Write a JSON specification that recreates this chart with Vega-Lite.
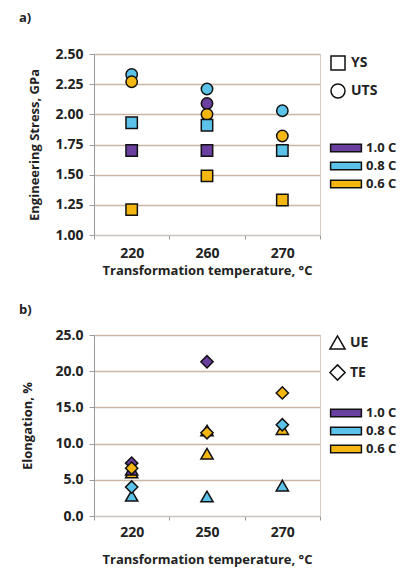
{
  "$schema": "https://vega.github.io/schema/vega-lite/v6.json",
  "background": "white",
  "padding": {"left": 18, "top": 11, "right": 5, "bottom": 5},
  "spacing": 25,
  "config": {
    "font": "Open Sans",
    "view": {"stroke": "#d8ccc0", "strokeWidth": 1},
    "axis": {
      "labelFont": "Open Sans", "labelFontWeight": "bold", "labelFontSize": 14, "labelColor": "#222",
      "titleFont": "Open Sans", "titleFontWeight": "bold", "titleFontSize": 13, "titleColor": "#222",
      "domainColor": "#9a9a9a", "tickColor": "#9a9a9a", "gridColor": "#c9b6a6", "gridWidth": 1.3
    },
    "legend": {
      "labelFont": "Open Sans", "labelFontWeight": "bold", "labelFontSize": 14, "labelColor": "#222", "padding": 0
    },
    "title": {"font": "Open Sans", "fontWeight": "bold", "fontSize": 13, "color": "#222", "anchor": "start", "frame": "group"}
  },
  "resolve": {
    "scale": {"color": "independent", "shape": "independent", "x": "independent", "y": "independent"},
    "legend": {"color": "independent", "shape": "independent"}
  },
  "vconcat": [
    {
      "title": {"text": "a)", "dx": -75, "offset": 22},
      "width": 226,
      "height": 181,
      "data": {"values": [
        {"temp": "220", "prop": "YS", "carbon": "0.6 C", "value": 1.21},
        {"temp": "220", "prop": "YS", "carbon": "1.0 C", "value": 1.70},
        {"temp": "220", "prop": "YS", "carbon": "0.8 C", "value": 1.93},
        {"temp": "220", "prop": "UTS", "carbon": "0.8 C", "value": 2.33},
        {"temp": "220", "prop": "UTS", "carbon": "0.6 C", "value": 2.27},
        {"temp": "260", "prop": "UTS", "carbon": "0.8 C", "value": 2.21},
        {"temp": "260", "prop": "UTS", "carbon": "1.0 C", "value": 2.09},
        {"temp": "260", "prop": "UTS", "carbon": "0.6 C", "value": 2.00},
        {"temp": "260", "prop": "YS", "carbon": "0.8 C", "value": 1.91},
        {"temp": "260", "prop": "YS", "carbon": "1.0 C", "value": 1.70},
        {"temp": "260", "prop": "YS", "carbon": "0.6 C", "value": 1.49},
        {"temp": "270", "prop": "UTS", "carbon": "0.8 C", "value": 2.03},
        {"temp": "270", "prop": "UTS", "carbon": "0.6 C", "value": 1.82},
        {"temp": "270", "prop": "YS", "carbon": "0.8 C", "value": 1.70},
        {"temp": "270", "prop": "YS", "carbon": "0.6 C", "value": 1.29}
      ]},
      "mark": {"type": "point", "filled": true, "opacity": 1, "size": 130, "stroke": "#111", "strokeWidth": 1.5},
      "encoding": {
        "x": {
          "field": "temp", "type": "nominal", "sort": ["220", "260", "270"],
          "scale": {"type": "band", "paddingInner": 0, "paddingOuter": 0},
          "axis": {"title": "Transformation temperature, °C", "labelAngle": 0, "tickBand": "extent", "grid": false, "labelPadding": 7, "titlePadding": 4, "tickSize": 4, "domainColor": "#c8c8c8"}
        },
        "y": {
          "field": "value", "type": "quantitative",
          "scale": {"domain": [1.0, 2.5], "nice": false, "zero": false},
          "axis": {"title": "Engineering Stress, GPa", "values": [1.0, 1.25, 1.5, 1.75, 2.0, 2.25, 2.5], "format": ".2f", "tickSize": 5, "labelPadding": 6, "titlePadding": 13}
        },
        "shape": {
          "field": "prop", "type": "nominal",
          "scale": {"domain": ["YS", "UTS"], "range": ["square", "circle"]},
          "legend": {"title": null, "orient": "none", "legendX": 236, "legendY": 1, "symbolFillColor": "white", "symbolStrokeColor": "#111", "symbolStrokeWidth": 1.5, "symbolSize": 196, "rowPadding": 8, "labelOffset": 5}
        },
        "color": {
          "field": "carbon", "type": "nominal",
          "scale": {"domain": ["1.0 C", "0.8 C", "0.6 C"], "range": ["#6a3fa0", "#5bc3ea", "#f4b611"]},
          "legend": {"title": null, "orient": "none", "legendX": 244, "legendY": 86, "labelFontSize": 13, "symbolType": "M-2.2,-0.55H2.2V0.55H-2.2Z", "symbolSize": 196, "symbolStrokeColor": "#111", "symbolStrokeWidth": 1.5, "rowPadding": 3, "labelOffset": 12}
        }
      }
    },
    {
      "title": {"text": "b)", "dx": -75, "offset": 11},
      "width": 226,
      "height": 181,
      "data": {"values": [
        {"temp": "220", "prop": "UE", "carbon": "0.8 C", "value": 2.8},
        {"temp": "220", "prop": "TE", "carbon": "0.8 C", "value": 4.0},
        {"temp": "220", "prop": "TE", "carbon": "1.0 C", "value": 7.3},
        {"temp": "220", "prop": "UE", "carbon": "0.6 C", "value": 6.0},
        {"temp": "220", "prop": "UE", "carbon": "1.0 C", "value": 6.4},
        {"temp": "220", "prop": "TE", "carbon": "0.6 C", "value": 6.6},
        {"temp": "250", "prop": "TE", "carbon": "1.0 C", "value": 21.3},
        {"temp": "250", "prop": "UE", "carbon": "1.0 C", "value": 11.8},
        {"temp": "250", "prop": "TE", "carbon": "0.6 C", "value": 11.5},
        {"temp": "250", "prop": "UE", "carbon": "0.6 C", "value": 8.6},
        {"temp": "250", "prop": "UE", "carbon": "0.8 C", "value": 2.7},
        {"temp": "270", "prop": "TE", "carbon": "0.6 C", "value": 17.0},
        {"temp": "270", "prop": "UE", "carbon": "0.6 C", "value": 12.0},
        {"temp": "270", "prop": "TE", "carbon": "0.8 C", "value": 12.6},
        {"temp": "270", "prop": "UE", "carbon": "0.8 C", "value": 4.2}
      ]},
      "mark": {"type": "point", "filled": true, "opacity": 1, "size": 150, "stroke": "#111", "strokeWidth": 1.5},
      "encoding": {
        "x": {
          "field": "temp", "type": "nominal", "sort": ["220", "250", "270"],
          "scale": {"type": "band", "paddingInner": 0, "paddingOuter": 0},
          "axis": {"title": "Transformation temperature, °C", "labelAngle": 0, "tickBand": "extent", "grid": false, "labelPadding": 5, "titlePadding": 14, "tickSize": 4, "domainColor": "#c8c8c8"}
        },
        "y": {
          "field": "value", "type": "quantitative",
          "scale": {"domain": [0, 25], "nice": false},
          "axis": {"title": "Elongation, %", "values": [0, 5, 10, 15, 20, 25], "format": ".1f", "tickSize": 5, "labelPadding": 6, "titlePadding": 20}
        },
        "shape": {
          "field": "prop", "type": "nominal",
          "scale": {"domain": ["UE", "TE"], "range": ["triangle-up", "diamond"]},
          "legend": {"title": null, "orient": "none", "legendX": 235, "legendY": -1, "symbolFillColor": "white", "symbolStrokeColor": "#111", "symbolStrokeWidth": 1.5, "symbolSize": 230, "rowPadding": 8, "labelOffset": 4}
        },
        "color": {
          "field": "carbon", "type": "nominal",
          "scale": {"domain": ["1.0 C", "0.8 C", "0.6 C"], "range": ["#6a3fa0", "#5bc3ea", "#f4b611"]},
          "legend": {"title": null, "orient": "none", "legendX": 244, "legendY": 70, "labelFontSize": 13, "symbolType": "M-2.2,-0.55H2.2V0.55H-2.2Z", "symbolSize": 196, "symbolStrokeColor": "#111", "symbolStrokeWidth": 1.5, "rowPadding": 3, "labelOffset": 12}
        }
      }
    }
  ]
}
